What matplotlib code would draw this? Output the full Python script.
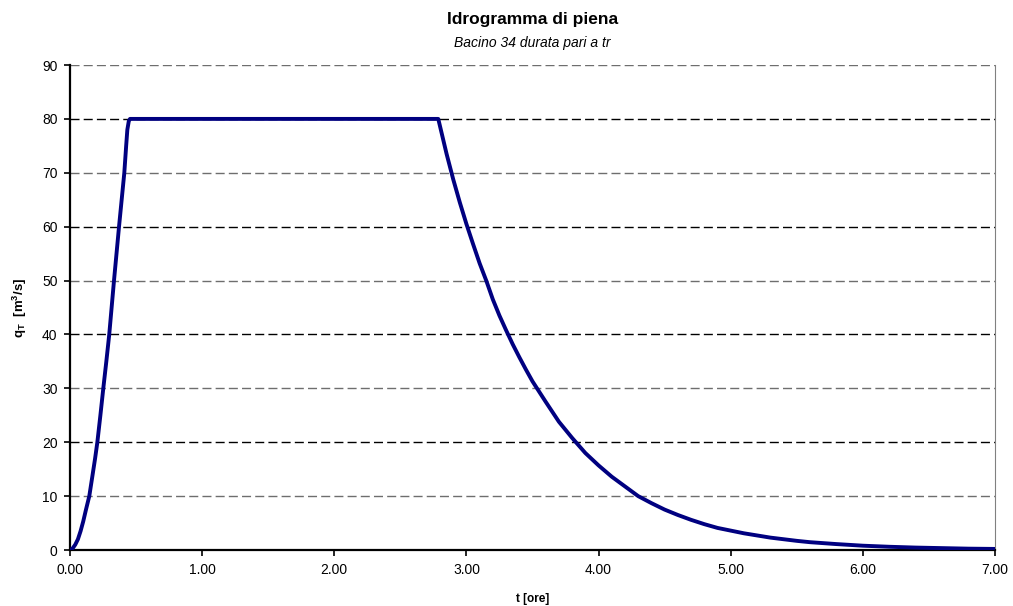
import matplotlib
matplotlib.use("Agg")
import matplotlib.pyplot as plt

plt.rcParams['font.family'] = ['Liberation Sans', 'DejaVu Sans']

# hydrograph: t [ore], q [m3/s]
t_ore = [0.00, 0.02, 0.04, 0.06, 0.08, 0.10, 0.12, 0.146, 0.17, 0.19, 0.207, 0.23, 0.252,
         0.275, 0.297, 0.315, 0.333, 0.352, 0.371, 0.391, 0.411, 0.425, 0.434, 0.445, 0.454,
         2.787, 2.85, 2.90, 2.95, 3.00, 3.05, 3.10, 3.15, 3.20, 3.25, 3.30, 3.35, 3.40,
         3.45, 3.50, 3.60, 3.70, 3.80, 3.90, 4.00, 4.10, 4.20, 4.30, 4.40, 4.50, 4.60,
         4.70, 4.80, 4.90, 5.00, 5.10, 5.20, 5.30, 5.40, 5.50, 5.60, 5.80, 6.00, 6.20,
         6.40, 6.60, 6.80, 7.00]
q_m3s = [0.0, 0.3, 1.0, 2.0, 3.5, 5.3, 7.4, 10.0, 13.8, 17.0, 20.0, 25.0, 30.0,
         35.0, 40.0, 45.0, 50.0, 55.0, 60.0, 65.0, 70.0, 75.0, 78.0, 79.6, 80.0,
         80.0, 73.5, 68.8, 64.5, 60.5, 56.8, 53.2, 50.0, 46.5, 43.5, 40.8, 38.2, 35.8,
         33.5, 31.3, 27.5, 23.8, 20.8, 18.0, 15.7, 13.6, 11.8, 10.0, 8.7, 7.5, 6.5,
         5.6, 4.8, 4.1, 3.6, 3.1, 2.7, 2.3, 2.0, 1.7, 1.45, 1.1, 0.8, 0.6,
         0.45, 0.35, 0.25, 0.2]

x_ticks = [0, 1, 2, 3, 4, 5, 6, 7]
y_ticks = [0, 10, 20, 30, 40, 50, 60, 70, 80, 90]

fig = plt.figure(figsize=(10.13, 6.06), dpi=100)
ax = fig.add_axes([0.0691, 0.0924, 0.9131, 0.8003])

# dashed grid, alternating dark / grey like the original
for lev in y_ticks[1:]:
    col = '#000000' if lev % 20 == 0 else '#6e6e6e'
    ax.axhline(lev, color=col, lw=1.0, ls=(0, (6.5, 3)), zorder=1)

ax.plot(t_ore, q_m3s, color='#000080', lw=2.8, zorder=3)

ax.set_xlim(0, 7)
ax.set_ylim(0, 90)
ax.set_xticks(x_ticks)
ax.set_xticklabels([f"{v:.2f}" for v in x_ticks])
ax.set_yticks(y_ticks)
ax.tick_params(direction='out', length=4, width=1.2, labelsize=10, colors='black')
ax.tick_params(axis='y', pad=5)
ax.tick_params(axis='x', pad=5)

for s in ['left', 'bottom']:
    ax.spines[s].set_linewidth(1.6)
    ax.spines[s].set_color('black')
ax.spines['top'].set_visible(False)
ax.spines['right'].set_color('#808080')
ax.spines['right'].set_linewidth(0.8)

ax.set_xlabel('t [ore]', fontsize=8.5, fontweight='bold', labelpad=12)
ax.set_ylabel(r'q$_\mathregular{T}$  [m$^\mathregular{3}$/s]', fontsize=9.5, fontweight='bold', labelpad=9)

fig.text(0.5257, 0.967, 'Idrogramma di piena', ha='center', va='center', fontsize=12.5, fontweight='bold')
fig.text(0.5257, 0.929, 'Bacino 34 durata pari a tr', ha='center', va='center', fontsize=10, style='italic')

fig.savefig('out.png', dpi=100)
